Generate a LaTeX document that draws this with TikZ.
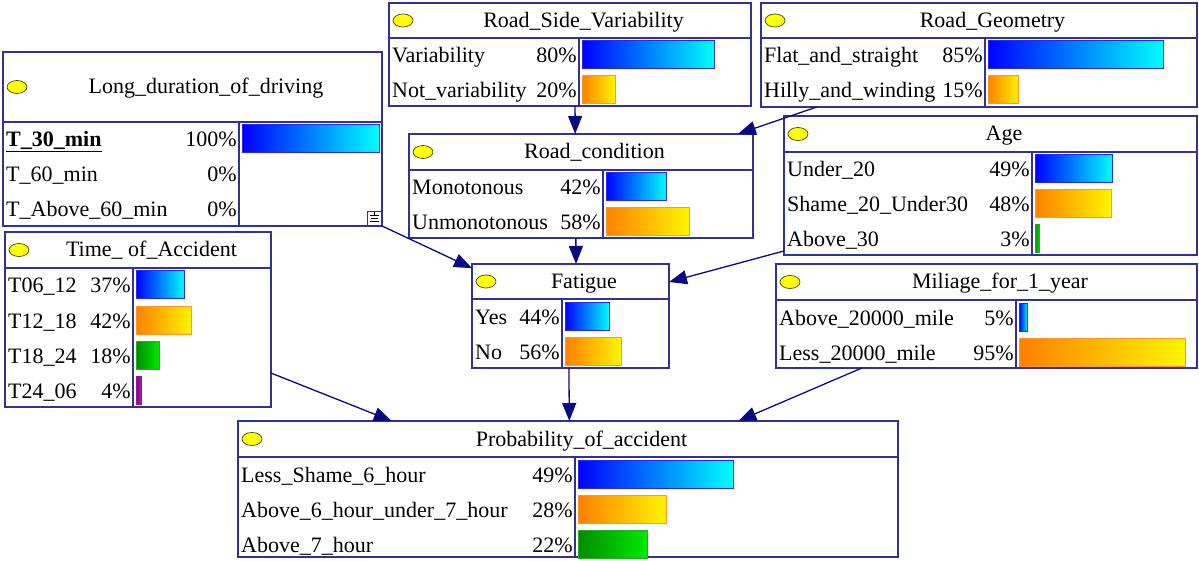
\documentclass[tikz,border=0pt]{standalone}
\usepackage{fontspec}
\setmainfont{Liberation Serif}
\usetikzlibrary{arrows.meta,calc}

\definecolor{boxc}{RGB}{50,50,150}
\definecolor{arrc}{RGB}{10,10,130}
\definecolor{blueL}{RGB}{0,0,255}
\definecolor{blueR}{RGB}{0,255,255}
\definecolor{blueBd}{RGB}{40,40,235}
\definecolor{orL}{RGB}{255,128,0}
\definecolor{orR}{RGB}{255,245,0}
\definecolor{orBd}{RGB}{255,150,40}
\definecolor{grL}{RGB}{0,140,0}
\definecolor{grR}{RGB}{0,235,0}
\definecolor{grBd}{RGB}{40,170,40}
\definecolor{puL}{RGB}{130,0,140}
\definecolor{puR}{RGB}{175,30,175}
\definecolor{puBd}{RGB}{150,20,150}
\definecolor{dotc}{RGB}{255,255,0}
\definecolor{dotBd}{RGB}{70,70,20}

\tikzset{
  netframe/.style={draw=boxc, line width=1.3pt},
  dot/.style={draw=dotBd, fill=dotc, line width=0.7pt},
  lbl/.style={anchor=base west, inner sep=0pt},
  pc/.style={anchor=base east, inner sep=0pt},
  ttl/.style={anchor=base, inner sep=0pt},
  barblue/.style={draw=blueBd, line width=1pt, left color=blueL, right color=blueR},
  barorange/.style={draw=orBd, line width=1pt, left color=orL, right color=orR},
  bargreen/.style={draw=grBd, line width=1pt, left color=grL, right color=grR},
  barpurple/.style={draw=puBd, line width=1pt, left color=puL, right color=puR},
  link/.style={draw=arrc, line width=1.3pt, -{Triangle[length=18pt,width=14pt]}},
}

% box: name, left, top, right, header line, bottom, column line, title
\newcommand{\bnbox}[8]{%
  \pgfmathsetmacro\curL{#2}\pgfmathsetmacro\curT{#3}\pgfmathsetmacro\curR{#4}%
  \pgfmathsetmacro\curH{#5}\pgfmathsetmacro\curB{#6}\pgfmathsetmacro\curC{#7}%
  \pgfmathsetmacro\bnw{\curR-\curL}\pgfmathsetmacro\bnh{\curB-\curT}%
  \node[netframe, fill=white, anchor=north west, minimum width=\bnw pt,
        minimum height=\bnh pt, inner sep=0pt, outer sep=0pt] (#1) at (\curL,\curT) {};
  \draw[netframe] (\curL,\curH) -- (\curR,\curH);
  \draw[netframe] (\curC,\curH) -- (\curC,\curB);
  \draw[dot] (\curL+14,{(\curT+\curH)/2}) ellipse (10pt and 6.5pt);
  \node[ttl] at ({(\curL+27+\curR)/2},{(\curT+\curH)/2+7}) {#8};
}

% state row: index, label, percent, bar style
\newcommand{\bnrow}[4]{%
  \pgfmathsetmacro\bny{\curH+18+35*#1}%
  \node[lbl] at (\curL+3,\bny+7) {#2};
  \node[pc] at (\curC-2,\bny+7) {#3\%};
  \pgfmathsetmacro\bnbar{#3/100*(\curR-\curC-6)}%
  \ifdim\bnbar pt>0pt
    \draw[#4] (\curC+3,\curH+3+35*#1) rectangle ++(\bnbar,28);
  \fi
}

\begin{document}
\begin{tikzpicture}[x=1pt,y=-1pt,font=\fontsize{22}{26}\selectfont]
\fill[white] (0,0) rectangle (1199,561);
\useasboundingbox (0,0) rectangle (1199,561);

\bnbox{ld}{3}{52}{382}{122}{226}{239}{Long\_duration\_of\_driving}
\bnrow{0}{\textbf{\underline{T\_30\_min}}}{100}{barblue}
\bnrow{1}{T\_60\_min}{0}{barblue}
\bnrow{2}{T\_Above\_60\_min}{0}{barblue}
% expand marker in the corner
\draw[boxc, line width=0.8pt, fill=white] (367,211) rectangle (381,225);
\draw[black, line width=0.8pt] (374,212.5)--(374,215.5)
  (369.5,215.5)--(378.5,215.5) (370.5,218.5)--(377.5,218.5) (369.5,221.5)--(378.5,221.5);

\bnbox{rsv}{389}{3}{751}{38}{106}{579}{Road\_Side\_Variability}
\bnrow{0}{Variability}{80}{barblue}
\bnrow{1}{Not\_variability}{20}{barorange}

\bnbox{rg}{761}{3}{1197}{38}{107}{985}{Road\_Geometry}
\bnrow{0}{Flat\_and\_straight}{85}{barblue}
\bnrow{1}{Hilly\_and\_winding}{15}{barorange}

\bnbox{rc}{409}{134}{753}{170}{238}{603}{Road\_condition}
\bnrow{0}{Monotonous}{42}{barblue}
\bnrow{1}{Unmonotonous}{58}{barorange}

\bnbox{age}{784}{116}{1197}{152}{255}{1032}{Age}
\bnrow{0}{Under\_20}{49}{barblue}
\bnrow{1}{Shame\_20\_Under30}{48}{barorange}
\bnrow{2}{Above\_30}{3}{bargreen}

\bnbox{toa}{5}{232}{271}{268}{407}{133}{Time\_ of\_Accident}
\bnrow{0}{T06\_12}{37}{barblue}
\bnrow{1}{T12\_18}{42}{barorange}
\bnrow{2}{T18\_24}{18}{bargreen}
\bnrow{3}{T24\_06}{4}{barpurple}

\bnbox{fat}{472}{264}{669}{299}{368}{562}{Fatigue}
\bnrow{0}{Yes}{44}{barblue}
\bnrow{1}{No}{56}{barorange}

\bnbox{mil}{776}{264}{1197}{300}{368}{1016}{Miliage\_for\_1\_year}
\bnrow{0}{Above\_20000\_mile}{5}{barblue}
\bnrow{1}{Less\_20000\_mile}{95}{barorange}

\bnbox{pa}{238}{421}{898}{457}{557}{575}{Probability\_of\_accident}
\bnrow{0}{Less\_Shame\_6\_hour}{49}{barblue}
\bnrow{1}{Above\_6\_hour\_under\_7\_hour}{28}{barorange}
\bnrow{2}{Above\_7\_hour}{22}{bargreen}

% dependencies
\draw[link] ($(rsv.south west)!0.514!(rsv.south east)$) -- ($(rc.north west)!0.483!(rc.north east)$);
\draw[link] ($(rg.south west)!0.128!(rg.south east)$) -- ($(rc.north west)!0.956!(rc.north east)$);
\draw[link] (ld.south east) -- ($(fat.north west)!0.04!(fat.south west)$);
\draw[link] ($(rc.south west)!0.485!(rc.south east)$) -- ($(fat.north west)!0.528!(fat.north east)$);
\draw[link] ($(age.north west)!0.971!(age.south west)$) -- ($(fat.north east)!0.173!(fat.south east)$);
\draw[link] ($(toa.north east)!0.806!(toa.south east)$) -- ($(pa.north west)!0.233!(pa.north east)$);
\draw[link] ($(fat.south west)!0.492!(fat.south east)$) -- ($(pa.north west)!0.502!(pa.north east)$);
\draw[link] ($(mil.south west)!0.204!(mil.south east)$) -- ($(pa.north west)!0.758!(pa.north east)$);
\end{tikzpicture}
\end{document}
